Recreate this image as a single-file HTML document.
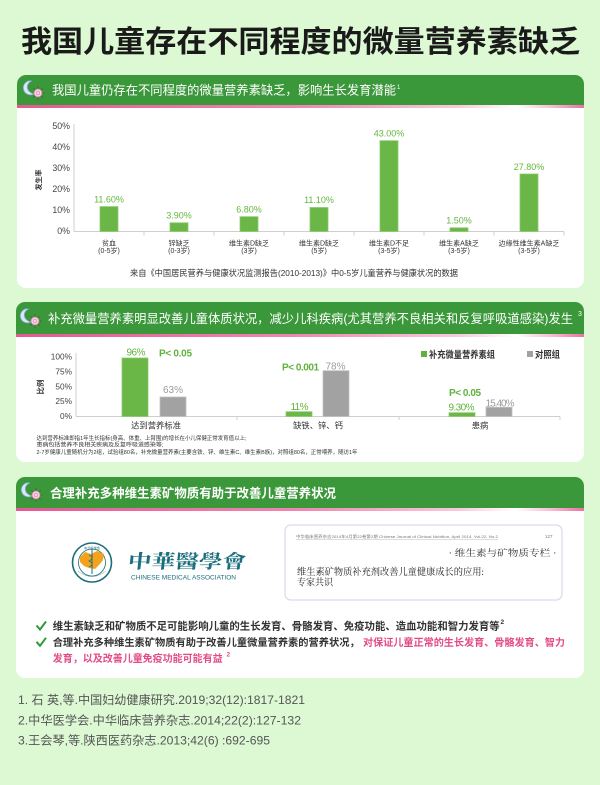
<!DOCTYPE html>
<html><head><meta charset="utf-8">
<style>
html,body{margin:0;padding:0;background:#dcf9d4;width:600px;height:785px;overflow:hidden;}
svg{display:block;}
text{font-family:"Liberation Sans","Noto Sans CJK SC",sans-serif;}
.sf{font-family:"Liberation Serif","Noto Serif CJK SC",serif;}
</style></head><body>
<svg width="600" height="785" viewBox="0 0 600 785" xmlns="http://www.w3.org/2000/svg">
<defs>
<linearGradient id="pk" x1="0" x2="1" y1="0" y2="0">
<stop offset="0" stop-color="#e35a90"/>
<stop offset="0.5" stop-color="#ee88b0"/>
<stop offset="0.78" stop-color="#f9cadc"/>
<stop offset="0.88" stop-color="#ffffff"/>
<stop offset="0.95" stop-color="#f6b4cd"/>
<stop offset="1" stop-color="#ea70a0"/>
</linearGradient>
<g id="ic">
<path d="M8,2 A7,7 0 1 0 11,14 A5.5,5.5 0 0 1 8,2 Z" fill="#d9e8f8" stroke="#86aad2" stroke-width="0.8"/>
<g stroke="#2b5e2b" stroke-width="0.7">
<line x1="14" y1="7.5" x2="14" y2="9.5"/><line x1="14" y1="18.5" x2="14" y2="20.5"/>
<line x1="7.5" y1="14" x2="9.5" y2="14"/><line x1="18.5" y1="14" x2="20.5" y2="14"/>
<line x1="9.4" y1="9.4" x2="10.8" y2="10.8"/><line x1="17.2" y1="17.2" x2="18.6" y2="18.6"/>
<line x1="18.6" y1="9.4" x2="17.2" y2="10.8"/><line x1="9.4" y1="18.6" x2="10.8" y2="17.2"/>
</g>
<circle cx="14" cy="14" r="4" fill="#f8d3e3" stroke="#d97aa8" stroke-width="0.8"/>
<circle cx="14" cy="14" r="1.8" fill="none" stroke="#d97aa8" stroke-width="0.6"/>
</g>
</defs>

<rect width="600" height="785" fill="#dcf9d4"/>

<!-- Title -->
<text x="21" y="52" font-size="30" font-weight="bold" fill="#1a1a1a" textLength="559" lengthAdjust="spacingAndGlyphs">我国儿童存在不同程度的微量营养素缺乏</text>

<!-- Panel 1 -->
<rect x="17" y="75" width="567" height="213" rx="9" fill="#ffffff"/>
<path d="M17,105 V84 A9,9 0 0 1 26,75 H575 A9,9 0 0 1 584,84 V105 Z" fill="#3a973a"/>
<rect x="17" y="105" width="567" height="3" fill="url(#pk)"/>
<use href="#ic" x="24" y="79"/>
<text x="52" y="94.7" font-size="12.5" fill="#ffffff" textLength="344" lengthAdjust="spacingAndGlyphs">我国儿童仍存在不同程度的微量营养素缺乏，影响生长发育潜能</text>
<text x="397" y="89" font-size="6" fill="#ffffff">1</text>

<!-- Chart 1 -->
<line x1="74" y1="124" x2="74" y2="231.5" stroke="#cfcfcf" stroke-width="1"/>
<line x1="74" y1="231.5" x2="564" y2="231.5" stroke="#cfcfcf" stroke-width="1"/>
<g stroke="#cfcfcf" stroke-width="1">
<line x1="144" y1="231.5" x2="144" y2="235.5"/><line x1="214" y1="231.5" x2="214" y2="235.5"/>
<line x1="284" y1="231.5" x2="284" y2="235.5"/><line x1="354" y1="231.5" x2="354" y2="235.5"/>
<line x1="424" y1="231.5" x2="424" y2="235.5"/><line x1="494" y1="231.5" x2="494" y2="235.5"/>
<line x1="564" y1="231.5" x2="564" y2="235.5"/>
</g>
<g font-size="8.8" fill="#444" text-anchor="end">
<text x="70" y="129">50%</text>
<text x="70" y="150">40%</text>
<text x="70" y="171">30%</text>
<text x="70" y="192">20%</text>
<text x="70" y="213">10%</text>
<text x="70" y="234">0%</text>
</g>
<text transform="translate(41,180) rotate(-90)" font-size="7" font-weight="bold" fill="#333" text-anchor="middle">发生率</text>
<g fill="#6ab647" stroke="#8acb6a" stroke-width="0.8">
<rect x="100" y="206.6" width="18" height="24.9"/>
<rect x="170" y="222.8" width="18" height="8.7"/>
<rect x="240" y="216.7" width="18" height="14.8"/>
<rect x="310" y="207.5" width="18" height="24"/>
<rect x="380" y="140.7" width="18" height="90.8"/>
<rect x="450" y="227.8" width="18" height="3.7"/>
<rect x="520" y="174" width="18" height="57.5"/>
</g>
<g font-size="9" fill="#63b83e" text-anchor="middle">
<text x="109" y="202.3">11.60%</text>
<text x="179" y="218.5">3.90%</text>
<text x="249" y="212.3">6.80%</text>
<text x="319" y="203.2">11.10%</text>
<text x="389" y="136.6">43.00%</text>
<text x="459" y="223.6">1.50%</text>
<text x="529" y="169.8">27.80%</text>
</g>
<g font-size="7" fill="#333" text-anchor="middle">
<text x="109" y="245.5">贫血</text><text x="109" y="252.8">(0-5岁)</text>
<text x="179" y="245.5">锌缺乏</text><text x="179" y="252.8">(0-3岁)</text>
<text x="249" y="245.5">维生素D缺乏</text><text x="249" y="252.8">(3岁)</text>
<text x="319" y="245.5">维生素D缺乏</text><text x="319" y="252.8">(5岁)</text>
<text x="389" y="245.5">维生素D不足</text><text x="389" y="252.8">(3-5岁)</text>
<text x="459" y="245.5">维生素A缺乏</text><text x="459" y="252.8">(3-5岁)</text>
<text x="529" y="245.5">边缘性维生素A缺乏</text><text x="529" y="252.8">(3-5岁)</text>
</g>
<text x="130" y="276" font-size="8.7" fill="#333" textLength="328" lengthAdjust="spacingAndGlyphs">来自《中国居民营养与健康状况监测报告(2010-2013)》中0-5岁儿童营养与健康状况的数据</text>

<!-- Panel 2 -->
<rect x="16" y="302" width="568" height="160" rx="9" fill="#ffffff"/>
<path d="M16,334 V311 A9,9 0 0 1 25,302 H575 A9,9 0 0 1 584,311 V334 Z" fill="#3a973a"/>
<rect x="16" y="334" width="568" height="3" fill="url(#pk)"/>
<use href="#ic" x="21" y="307"/>
<text x="48" y="323" font-size="12.5" fill="#ffffff" textLength="525" lengthAdjust="spacingAndGlyphs">补充微量营养素明显改善儿童体质状况，减少儿科疾病(尤其营养不良相关和反复呼吸道感染)发生</text>
<text x="578" y="316" font-size="7" fill="#ffffff">3</text>

<!-- Chart 2 -->
<line x1="76" y1="353" x2="76" y2="416.5" stroke="#cfcfcf" stroke-width="1"/>
<line x1="76" y1="416.5" x2="560" y2="416.5" stroke="#cfcfcf" stroke-width="1"/>
<g stroke="#cfcfcf" stroke-width="1">
<line x1="237" y1="416.5" x2="237" y2="420"/><line x1="399" y1="416.5" x2="399" y2="420"/><line x1="560" y1="416.5" x2="560" y2="420"/>
</g>
<g font-size="8.3" fill="#444" text-anchor="end">
<text x="72" y="359.7">100%</text>
<text x="72" y="374.5">75%</text>
<text x="72" y="389.3">50%</text>
<text x="72" y="404.2">25%</text>
<text x="72" y="419">0%</text>
</g>
<text transform="translate(43,387) rotate(-90)" font-size="7.5" font-weight="bold" fill="#333" text-anchor="middle">比例</text>
<g stroke-width="0.8">
<rect x="122" y="358" width="26" height="58.5" fill="#6ab647" stroke="#8acb6a"/>
<rect x="160" y="397" width="26" height="19.5" fill="#a2a2a2" stroke="#c0c0c0"/>
<rect x="286" y="411.7" width="26" height="4.8" fill="#6ab647" stroke="#8acb6a"/>
<rect x="323" y="370.7" width="26" height="45.8" fill="#a2a2a2" stroke="#c0c0c0"/>
<rect x="449" y="412.7" width="26" height="3.8" fill="#6ab647" stroke="#8acb6a"/>
<rect x="486" y="407.3" width="26" height="9.2" fill="#a2a2a2" stroke="#c0c0c0"/>
</g>
<g font-size="10" text-anchor="middle">
<text x="136" y="355.5" fill="#5fb33c" textLength="19">96%</text>
<text x="173" y="393" fill="#9c9c9c" textLength="20">63%</text>
<text x="335.5" y="369.5" fill="#9c9c9c" textLength="20">78%</text>
<text x="299.5" y="409.8" fill="#5fb33c" textLength="18">11%</text>
<text x="461.5" y="410.5" fill="#5fb33c" textLength="26">9.30%</text>
<text x="500" y="406.5" fill="#9c9c9c" textLength="29">15.40%</text>
</g>
<g font-size="10" font-weight="bold" fill="#5fb33c">
<text x="159" y="356.3" textLength="33">P&lt; 0.05</text>
<text x="282" y="370.5" textLength="37">P&lt; 0.001</text>
<text x="449" y="396" textLength="32">P&lt; 0.05</text>
</g>
<rect x="421" y="351" width="6" height="6" fill="#5fb33c"/>
<text x="429" y="358" font-size="9.4" font-weight="bold" fill="#333" textLength="66" lengthAdjust="spacingAndGlyphs">补充微量营养素组</text>
<rect x="527" y="351" width="6" height="6" fill="#a2a2a2"/>
<text x="535" y="358" font-size="9.4" font-weight="bold" fill="#333" textLength="25" lengthAdjust="spacingAndGlyphs">对照组</text>
<g font-size="8.3" fill="#333" text-anchor="middle">
<text x="156" y="428.5">达到营养标准</text>
<text x="318" y="428.5">缺铁、锌、钙</text>
<text x="480" y="428.5">患病</text>
</g>
<g font-size="5.5" fill="#333">
<text x="36.5" y="440" textLength="210" lengthAdjust="spacingAndGlyphs">达到营养标准即指1年生长指标(身高、体重、上臂围)的增长在小儿保健正常发育值以上;</text>
<text x="36.5" y="446.3" textLength="127" lengthAdjust="spacingAndGlyphs">患病包括营养不良相关疾病及反复呼吸道感染等;</text>
<text x="36.5" y="454" textLength="321" lengthAdjust="spacingAndGlyphs">2-7岁健康儿童随机分为2组，试验组80名，补充微量营养素(主要含铁、锌、维生素C、维生素B族)，对照组80名，正常喂养，随访1年</text>
</g>

<!-- Panel 3 -->
<rect x="16" y="477" width="568" height="201" rx="9" fill="#ffffff"/>
<path d="M16,508 V486 A9,9 0 0 1 25,477 H575 A9,9 0 0 1 584,486 V508 Z" fill="#3a973a"/>
<rect x="16" y="508" width="568" height="3" fill="url(#pk)"/>
<use href="#ic" x="22" y="481"/>
<text x="50" y="497.3" font-size="12.5" font-weight="bold" fill="#ffffff" textLength="286" lengthAdjust="spacingAndGlyphs">合理补充多种维生素矿物质有助于改善儿童营养状况</text>

<!-- Logo -->
<g>
<circle cx="92" cy="562.5" r="19.5" fill="#ffffff" stroke="#1d6e7b" stroke-width="1.6"/>
<circle cx="92" cy="562.5" r="13.5" fill="none" stroke="#1d6e7b" stroke-width="0.8"/>
<path d="M80,557 L85,552 L91,554 L97,551 L104,554 L103,560 L99,565 L95,569 L89,568 L84,566 L80,562 Z" fill="#f3a21c"/>
<line x1="92" y1="550" x2="92" y2="574" stroke="#1d6e7b" stroke-width="1"/>
<path d="M89,555 Q95,558 89,561 Q95,564 89,567" fill="none" stroke="#1d6e7b" stroke-width="0.8"/>
<text x="92" y="549.5" font-size="3.2" fill="#1d6e7b" text-anchor="middle">中华医学会</text>
<path d="M78,571 Q92,582 106,571" fill="none" stroke="#1d6e7b" stroke-width="0.5" stroke-dasharray="1,0.6"/>
</g>
<text class="sf" x="128" y="568" font-size="19" font-weight="bold" fill="#1a6f7c" textLength="118" lengthAdjust="spacingAndGlyphs" transform="skewX(-6) translate(59,0)">中華醫學會</text>
<text x="131" y="579.3" font-size="6.5" fill="#1a6f7c" textLength="105" lengthAdjust="spacingAndGlyphs">CHINESE MEDICAL ASSOCIATION</text>

<!-- Journal card -->
<rect x="285" y="525" width="277" height="75" rx="6" fill="#ffffff" stroke="#dcdce9" stroke-width="1.3"/>
<text x="296" y="538" font-size="4" fill="#777" textLength="202" lengthAdjust="spacingAndGlyphs">中华临床营养杂志2014年4月第22卷第2期  Chinese Journal of Clinical Nutrition, April 2014, Vol.22, No.2</text>
<line x1="296" y1="539.5" x2="498" y2="539.5" stroke="#aaa" stroke-width="0.4"/>
<text x="545" y="538" font-size="4.5" fill="#777">127</text>
<text class="sf" x="448.5" y="556" font-size="9" fill="#333" textLength="108" lengthAdjust="spacingAndGlyphs">· 维生素与矿物质专栏 ·</text>
<text class="sf" x="297" y="575.2" font-size="9.5" fill="#222" textLength="187" lengthAdjust="spacingAndGlyphs">维生素矿物质补充剂改善儿童健康成长的应用:</text>
<text class="sf" x="297" y="585.5" font-size="9.5" fill="#222" textLength="36" lengthAdjust="spacingAndGlyphs">专家共识</text>

<!-- Bullets -->
<path d="M36.5,625.5 L40,629.5 L46,621.5" fill="none" stroke="#2f9a35" stroke-width="2"/>
<path d="M36.5,641.8 L40,645.8 L46,637.8" fill="none" stroke="#2f9a35" stroke-width="2"/>
<text x="52.7" y="629.5" font-size="10.5" font-weight="bold" fill="#333" textLength="447" lengthAdjust="spacingAndGlyphs">维生素缺乏和矿物质不足可能影响儿童的生长发育、骨骼发育、免疫功能、造血功能和智力发育等</text>
<text x="500.5" y="624" font-size="6.5" font-weight="bold" fill="#333">2</text>
<text x="52.7" y="646" font-size="10.3" font-weight="bold" fill="#333" textLength="307" lengthAdjust="spacingAndGlyphs">合理补充多种维生素矿物质有助于改善儿童微量营养素的营养状况，</text>
<text x="363" y="646" font-size="10.3" font-weight="bold" fill="#e24c86" textLength="202" lengthAdjust="spacingAndGlyphs">对保证儿童正常的生长发育、骨骼发育、智力</text>
<text x="52.7" y="662.2" font-size="10.3" font-weight="bold" fill="#e24c86" textLength="170" lengthAdjust="spacingAndGlyphs">发育，以及改善儿童免疫功能可能有益</text>
<text x="226.5" y="656.5" font-size="6.5" font-weight="bold" fill="#e24c86">2</text>

<!-- References -->
<g font-size="12" fill="#555">
<text x="18" y="704.2" textLength="287" lengthAdjust="spacingAndGlyphs">1. 石 英,等.中国妇幼健康研究.2019;32(12):1817-1821</text>
<text x="18" y="724.7" textLength="283" lengthAdjust="spacingAndGlyphs">2.中华医学会.中华临床营养杂志.2014;22(2):127-132</text>
<text x="18" y="744.5" textLength="252" lengthAdjust="spacingAndGlyphs">3.王会琴,等.陕西医药杂志.2013;42(6) :692-695</text>
</g>
</svg>
</body></html>
